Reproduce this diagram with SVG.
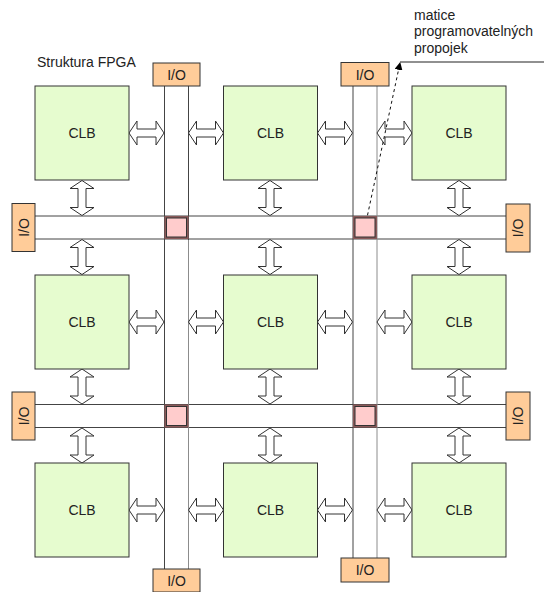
<svg xmlns="http://www.w3.org/2000/svg" xmlns:xlink="http://www.w3.org/1999/xlink" width="544" height="592" viewBox="0 0 544 592">
<style>
.clb{fill:#e6fccf;stroke:#333;stroke-width:1}
.io{fill:#ffcc99;stroke:#333;stroke-width:1}
.sw{fill:#ffcccc;stroke:#8a5a5a;stroke-width:2}
.swi{fill:none;stroke:#333;stroke-width:1}
.t{font-family:"Liberation Sans",Arial,sans-serif;font-size:14px;fill:#222}
.c{text-anchor:middle}
.ch{stroke:#444;stroke-width:1;fill:none}
.chl{stroke:#8c8c8c;stroke-width:1;fill:none}
.arr{fill:#fff;stroke:#333;stroke-width:1}
</style>
<defs>
<path id="ha" class="arr" d="M0,0 L8,-12 L8,-4 L27,-4 L27,-12 L35,0 L27,12 L27,4 L8,4 L8,12 Z"/>
<marker id="ah" markerWidth="8" markerHeight="8" refX="7" refY="4" orient="auto" markerUnits="userSpaceOnUse">
<path d="M0,0 L8,4 L0,8 Z" fill="#000"/>
</marker>
</defs>
<rect width="544" height="592" fill="#fff"/>
<text class="t" x="37" y="66.5">Struktura FPGA</text>
<text class="t" x="414" y="19.5">matice</text>
<text class="t" x="414" y="36">programovatelných</text>
<text class="t" x="414" y="52.5">propojek</text>

<g id="connectors">
<!-- channels -->
<line class="ch" x1="35" y1="216" x2="506" y2="216"/>
<line class="ch" x1="35" y1="239" x2="506" y2="239"/>
<line class="ch" x1="35" y1="404.5" x2="506" y2="404.5"/>
<line class="ch" x1="35" y1="427.5" x2="506" y2="427.5"/>
<line class="ch" x1="164.5" y1="86" x2="164.5" y2="569"/>
<line class="ch" x1="188.5" y1="86" x2="188.5" y2="240"/>
<line class="chl" x1="188.5" y1="240" x2="188.5" y2="569"/>
<line class="ch" x1="353" y1="86" x2="353" y2="558"/>
<line class="chl" x1="377" y1="86" x2="377" y2="558"/>
<!-- horizontal arrows -->
<use xlink:href="#ha" transform="translate(129,133)"/>
<use xlink:href="#ha" transform="translate(188.5,133)"/>
<use xlink:href="#ha" transform="translate(317.5,133)"/>
<use xlink:href="#ha" transform="translate(377,133)"/>
<use xlink:href="#ha" transform="translate(129,322)"/>
<use xlink:href="#ha" transform="translate(188.5,322)"/>
<use xlink:href="#ha" transform="translate(317.5,322)"/>
<use xlink:href="#ha" transform="translate(377,322)"/>
<use xlink:href="#ha" transform="translate(129,510)"/>
<use xlink:href="#ha" transform="translate(188.5,510)"/>
<use xlink:href="#ha" transform="translate(317.5,510)"/>
<use xlink:href="#ha" transform="translate(377,510)"/>
<!-- vertical arrows -->
<use xlink:href="#ha" transform="translate(82,180.5) rotate(90) scale(1,1)"/>
<use xlink:href="#ha" transform="translate(82,239.5) rotate(90)"/>
<use xlink:href="#ha" transform="translate(82,369) rotate(90)"/>
<use xlink:href="#ha" transform="translate(82,428) rotate(90)"/>
<use xlink:href="#ha" transform="translate(270,180.5) rotate(90)"/>
<use xlink:href="#ha" transform="translate(270,239.5) rotate(90)"/>
<use xlink:href="#ha" transform="translate(270,369) rotate(90)"/>
<use xlink:href="#ha" transform="translate(270,428) rotate(90)"/>
<use xlink:href="#ha" transform="translate(459,180.5) rotate(90)"/>
<use xlink:href="#ha" transform="translate(459,239.5) rotate(90)"/>
<use xlink:href="#ha" transform="translate(459,369) rotate(90)"/>
<use xlink:href="#ha" transform="translate(459,428) rotate(90)"/>
<!-- label pointer -->
<line x1="365" y1="227" x2="400" y2="63" stroke="#111" stroke-width="1" stroke-dasharray="3,3" marker-end="url(#ah)"/>
<line x1="400" y1="62" x2="544" y2="62" stroke="#222" stroke-width="1.2"/>
</g>

<g id="clb11"><rect class="clb" x="35" y="86" width="94" height="94"/><text class="t c" x="82" y="138">CLB</text></g>
<g id="clb12"><rect class="clb" x="223.5" y="86" width="94" height="94"/><text class="t c" x="270.5" y="138">CLB</text></g>
<g id="clb13"><rect class="clb" x="412" y="86" width="94" height="94"/><text class="t c" x="459" y="138">CLB</text></g>
<g id="clb21"><rect class="clb" x="35" y="275" width="94" height="94"/><text class="t c" x="82" y="327">CLB</text></g>
<g id="clb22"><rect class="clb" x="223.5" y="275" width="94" height="94"/><text class="t c" x="270.5" y="327">CLB</text></g>
<g id="clb23"><rect class="clb" x="412" y="275" width="94" height="94"/><text class="t c" x="459" y="327">CLB</text></g>
<g id="clb31"><rect class="clb" x="35" y="463" width="94" height="94"/><text class="t c" x="82" y="515">CLB</text></g>
<g id="clb32"><rect class="clb" x="223.5" y="463" width="94" height="94"/><text class="t c" x="270.5" y="515">CLB</text></g>
<g id="clb33"><rect class="clb" x="412" y="463" width="94" height="94"/><text class="t c" x="459" y="515">CLB</text></g>

<g id="sw11"><rect class="sw" x="165.5" y="217" width="22" height="21"/><rect class="swi" x="166.5" y="218" width="20" height="19"/></g>
<g id="sw12"><rect class="sw" x="354" y="217" width="22" height="21"/><rect class="swi" x="355" y="218" width="20" height="19"/></g>
<g id="sw21"><rect class="sw" x="165.5" y="405.5" width="22" height="21"/><rect class="swi" x="166.5" y="406.5" width="20" height="19"/></g>
<g id="sw22"><rect class="sw" x="354" y="405.5" width="22" height="21"/><rect class="swi" x="355" y="406.5" width="20" height="19"/></g>

<g id="io_top1"><rect class="io" x="153" y="63" width="47" height="23"/><text class="t c" x="176.5" y="79.5">I/O</text></g>
<g id="io_top2"><rect class="io" x="341" y="62.5" width="48" height="23.5"/><text class="t c" x="365" y="79.5">I/O</text></g>
<g id="io_bot1"><rect class="io" x="153" y="569" width="47" height="23"/><text class="t c" x="176.5" y="586">I/O</text></g>
<g id="io_bot2"><rect class="io" x="341" y="558" width="48" height="24"/><text class="t c" x="365" y="575">I/O</text></g>
<g id="io_left1"><rect class="io" x="12" y="203.5" width="23" height="48"/><text class="t c" transform="translate(28.5,227.5) rotate(-90)">I/O</text></g>
<g id="io_left2"><rect class="io" x="12" y="392" width="23" height="48"/><text class="t c" transform="translate(28.5,416) rotate(-90)">I/O</text></g>
<g id="io_right1"><rect class="io" x="506" y="204" width="24" height="48"/><text class="t c" transform="translate(523,228) rotate(-90)">I/O</text></g>
<g id="io_right2"><rect class="io" x="506" y="392" width="24" height="48"/><text class="t c" transform="translate(523,416) rotate(-90)">I/O</text></g>
</svg>
